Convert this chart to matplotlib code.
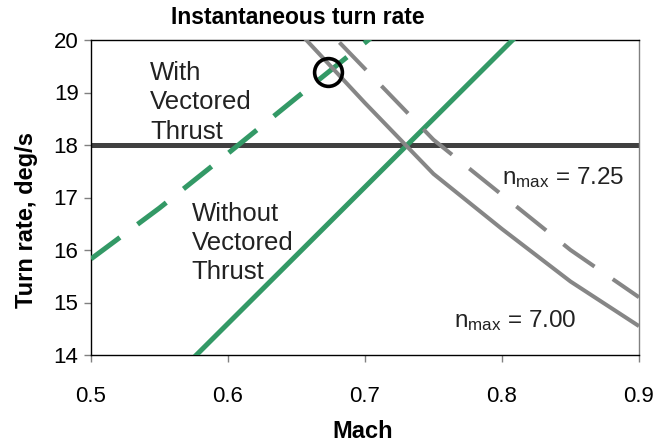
import matplotlib
matplotlib.use("Agg")
import matplotlib.pyplot as plt

plt.rcParams['font.family'] = ['Liberation Sans', 'DejaVu Sans']
plt.rcParams['mathtext.fontset'] = 'custom'
plt.rcParams['mathtext.rm'] = 'Liberation Sans'
plt.rcParams['mathtext.it'] = 'Liberation Sans'

# Data
mach_ref = [0.5, 0.6, 0.7, 0.8, 0.9]
rate_ref = [18, 18, 18, 18, 18]

mach_novec = [0.55, 0.6, 0.65, 0.7, 0.75, 0.8, 0.85]
rate_novec = [13.3, 14.6, 15.9, 17.2, 18.5, 19.8, 21.1]

mach_vec = [0.5, 0.55, 0.6, 0.65, 0.7, 0.75]
rate_vec = [15.83, 16.8, 17.84, 18.9, 19.95, 21.0]

mach_n700 = [0.65, 0.7, 0.75, 0.8, 0.85, 0.9]
rate_n700 = [20.2, 18.8, 17.45, 16.4, 15.4, 14.55]

mach_n725 = [0.65, 0.7, 0.75, 0.8, 0.85, 0.9]
rate_n725 = [20.8, 19.45, 18.1, 17.05, 16.0, 15.1]

circle_pt = (0.673, 19.39)

xticks = [0.5, 0.6, 0.7, 0.8, 0.9]
yticks = [14, 15, 16, 17, 18, 19, 20]

green = '#339966'
gray = '#868686'
dark = '#404040'

W, H = 654, 443
fig = plt.figure(figsize=(W/100, H/100), dpi=100)
ax = fig.add_axes([91/W, 1-355/H, (639-91)/W, (355-40)/H])

ax.plot(mach_ref, rate_ref, color=dark, lw=3.6, solid_capstyle='butt', zorder=2)
ax.plot(mach_novec, rate_novec, color=green, lw=3.6, solid_capstyle='butt', zorder=3)
ax.plot(mach_vec, rate_vec, color=green, lw=3.6, dashes=(7.2, 4.4), dash_capstyle='butt', zorder=3)
ax.plot(mach_n700, rate_n700, color=gray, lw=2.9, solid_capstyle='butt', zorder=3)
ax.plot(mach_n725, rate_n725, color=gray, lw=2.9, dashes=(9.5, 5.5), dash_capstyle='butt', zorder=3)
ax.plot([circle_pt[0]], [circle_pt[1]], marker='o', ms=20, mfc='none', mec='black', mew=2.6, zorder=4)

ax.set_xlim(0.5, 0.9)
ax.set_ylim(14, 20)
ax.set_xticks(xticks)
ax.set_xticklabels([f'{v:.1f}' for v in xticks])
ax.set_yticks(yticks)
ax.tick_params(axis='both', labelsize=16, length=5, width=1, color='#808080', direction='out')
ax.tick_params(axis='x', pad=17)
ax.tick_params(axis='y', pad=4)
for s in ax.spines.values():
    s.set_linewidth(1)
ax.spines['left'].set_color('black')
ax.spines['bottom'].set_color('black')
ax.spines['top'].set_color('black')
ax.spines['right'].set_color('#808080')

fig.text(363/W, 1-431/H, 'Mach', fontsize=17, fontweight='bold', ha='center', va='center')
fig.text(27/W, 1-220/H, 'Turn rate, deg/s', fontsize=17, fontweight='bold',
         ha='center', va='center', rotation=90)
fig.text(298/W, 1-17.5/H, 'Instantaneous turn rate', fontsize=16.5, fontweight='bold',
         ha='center', va='center')

ax.text(0.543, 19.6, 'With\nVectored\nThrust', fontsize=18.5, color='#222222',
        ha='left', va='top', linespacing=1.28)
ax.text(0.5735, 16.92, 'Without\nVectored\nThrust', fontsize=18.5, color='#222222',
        ha='left', va='top', linespacing=1.28)
ax.text(0.8, 17.257, r'n$_{\mathrm{max}}$ = 7.25', fontsize=17.5, color='#222222',
        ha='left', va='baseline')
ax.text(0.765, 14.53, r'n$_{\mathrm{max}}$ = 7.00', fontsize=17.5, color='#222222',
        ha='left', va='baseline')

fig.savefig('out.png', dpi=100)
